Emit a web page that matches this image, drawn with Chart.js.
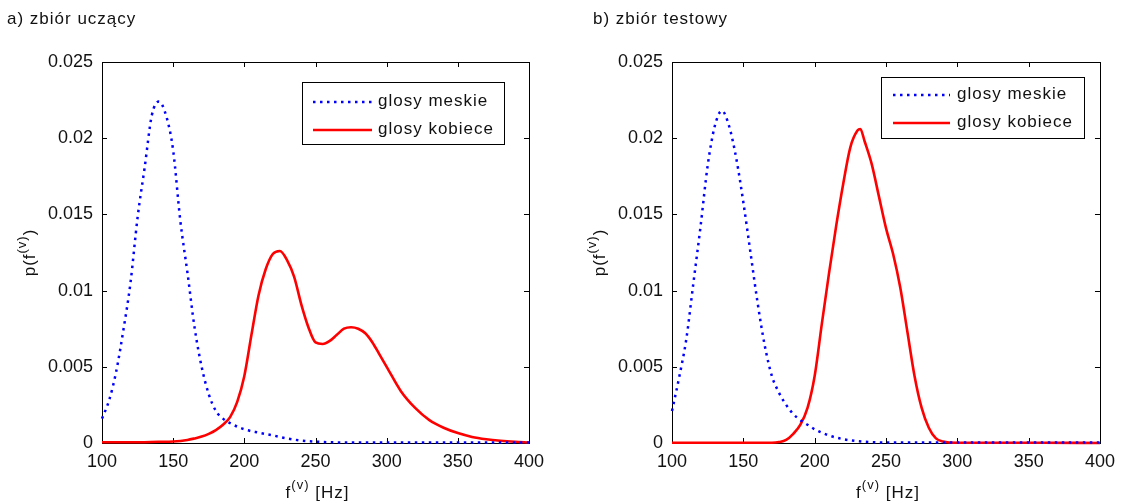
<!DOCTYPE html>
<html><head><meta charset="utf-8">
<script src="https://cdn.jsdelivr.net/npm/chart.js@4.4.1/dist/chart.umd.min.js"></script>
<style>
html,body{margin:0;padding:0;background:#fff;}
#wrap{position:relative;width:1123px;height:504px;overflow:hidden;}
canvas{position:absolute;top:0;}
</style></head><body>
<div id="wrap">
<canvas id="cA" width="560" height="504" style="left:0"></canvas>
<canvas id="cB" width="563" height="504" style="left:560px"></canvas>
</div>
<script>
// ---- data ----
const xTicks = [100, 150, 200, 250, 300, 350, 400];
const yTicks = [0, 0.005, 0.01, 0.015, 0.02, 0.025];
const seriesNames = ['glosy meskie', 'glosy kobiece'];
const panelTitles = ['a) zbiór uczący', 'b) zbiór testowy'];

// a) training set — male voices
const trainMaleHz = [100,105,110,115,120,125,130,135,140,145,150,155,160,165,170,175,180,185,190,200,210,220,230,240,250,260,280,300,350,400];
const trainMaleP  = [0.0016,0.0028,0.0047,0.0074,0.0105,0.0148,0.0181,0.0215,0.0224,0.0215,0.0192,0.0146,0.0112,0.0076,0.0050,0.0032,0.0021,0.0016,0.0013,0.0009,0.00068,0.0005,0.0003,0.00016,0.00009,0.00005,0.00003,0.00003,0.00003,0.00003];
// a) training set — female voices
const trainFemaleHz = [100,120,140,150,160,165,170,175,180,185,190,195,200,205,210,215,220,225,230,235,240,245,250,255,260,265,270,275,280,285,290,295,300,310,320,330,340,350,360,370,380,390,400];
const trainFemaleP  = [0.00005,0.00005,0.00008,0.0001,0.0002,0.0003,0.00042,0.0006,0.00085,0.0012,0.0017,0.0027,0.0044,0.0071,0.0097,0.0114,0.0124,0.0126,0.0120,0.0109,0.0091,0.0076,0.0066,0.0065,0.0067,0.0071,0.0075,0.0076,0.0075,0.0072,0.0066,0.0058,0.0050,0.0034,0.0023,0.0015,0.0010,0.00065,0.0004,0.00025,0.00015,0.00008,0.00003];
// b) test set — male voices
const testMaleHz = [100,105,110,115,120,125,130,135,140,145,150,155,160,165,170,175,180,185,190,195,200,210,220,230,240,250,300,350,400];
const testMaleP  = [0.0021,0.0043,0.0068,0.0105,0.0142,0.0182,0.0208,0.0218,0.0208,0.0187,0.0158,0.0125,0.0092,0.0064,0.0044,0.0033,0.0025,0.0019,0.0015,0.0012,0.0009,0.0005,0.00025,0.00012,0.00006,0.00003,0.00003,0.00003,0.00003];
// b) test set — female voices
const testFemaleHz = [100,150,170,175,180,185,190,195,200,205,210,215,220,225,230,232,235,240,245,250,255,260,265,270,275,280,285,290,300,350,360,400];
const testFemaleP  = [0.00002,0.00002,0.00002,0.00006,0.0002,0.0006,0.0012,0.0023,0.0044,0.0078,0.0111,0.0142,0.0170,0.0194,0.0205,0.0206,0.0198,0.0183,0.0162,0.0141,0.0124,0.0102,0.0073,0.0044,0.0023,0.0010,0.0003,0.0001,0.00002,0.00002,0.00002,0];

// ---- rendering ----
const FONT = '"Liberation Sans", Arial, Helvetica, sans-serif';
const TXT = '#111';
Chart.defaults.color = TXT;

function pts(xs, ys) { return xs.map((x, i) => ({x: x, y: ys[i]})); }

function drawParts(ctx, parts, x, y) {
  let cx = x;
  parts.forEach(p => {
    ctx.font = (p.sup ? '13px ' : '17px ') + FONT;
    const dy = p.sup ? -8 : 0;
    ctx.fillText(p.t, cx, y + dy);
    cx += ctx.measureText(p.t).width;
  });
}
function partsWidth(ctx, parts) {
  let w = 0;
  parts.forEach(p => { ctx.font = (p.sup ? '13px ' : '17px ') + FONT; w += ctx.measureText(p.t).width; });
  return w;
}

const matlabPlugin = {
  id: 'matlab',
  beforeDatasetsDraw(chart) {
    const {ctx, chartArea: a} = chart;
    ctx.save();
    ctx.strokeStyle = '#000';
    ctx.lineWidth = 1;
    ctx.strokeRect(Math.round(a.left) + 0.5, Math.round(a.top) + 0.5, Math.round(a.right - a.left), Math.round(a.bottom - a.top));
    const xs = chart.scales.x, ys = chart.scales.y;
    const L = 5;
    ctx.beginPath();
    xs.ticks.forEach(t => {
      const p = Math.round(xs.getPixelForValue(t.value)) + 0.5;
      ctx.moveTo(p, a.bottom); ctx.lineTo(p, a.bottom - L);
      ctx.moveTo(p, a.top); ctx.lineTo(p, a.top + L);
    });
    ys.ticks.forEach(t => {
      const p = Math.round(ys.getPixelForValue(t.value)) + 0.5;
      ctx.moveTo(a.left, p); ctx.lineTo(a.left + L, p);
      ctx.moveTo(a.right, p); ctx.lineTo(a.right - L, p);
    });
    ctx.stroke();
    ctx.restore();
  },
  afterDraw(chart, args, o) {
    const {ctx, chartArea: a} = chart;
    ctx.save();
    ctx.fillStyle = TXT;
    ctx.textBaseline = 'middle';
    ctx.textAlign = 'left';
    try { ctx.letterSpacing = '1px'; } catch (e) {}
    ctx.font = '17px ' + FONT;
    ctx.fillText(o.title, o.titleX, 19);
    const xp = [{t: 'f'}, {t: '(v)', sup: true}, {t: ' [Hz]'}];
    const w = partsWidth(ctx, xp);
    drawParts(ctx, xp, (a.left + a.right) / 2 - w / 2 + 2, 493);
    const yp = [{t: 'p(f'}, {t: '(v)', sup: true}, {t: ')'}];
    const wy = partsWidth(ctx, yp);
    ctx.translate(o.yLabelX, (a.top + a.bottom) / 2);
    ctx.rotate(-Math.PI / 2);
    drawParts(ctx, yp, -wy / 2, 0);
    ctx.setTransform(1, 0, 0, 1, 0, 0);
    const lg = o.legend;
    ctx.fillStyle = '#fff';
    ctx.fillRect(lg.x0, lg.y0, lg.x1 - lg.x0, lg.y1 - lg.y0);
    ctx.strokeStyle = '#000';
    ctx.lineWidth = 1;
    ctx.strokeRect(lg.x0 + 0.5, lg.y0 + 0.5, lg.x1 - lg.x0, lg.y1 - lg.y0);
    chart.data.datasets.forEach((ds, i) => {
      const yy = lg.rows[i];
      ctx.save();
      ctx.strokeStyle = ds.borderColor;
      ctx.lineWidth = ds.borderWidth;
      ctx.lineCap = 'butt';
      ctx.setLineDash(ds.borderDash || []);
      ctx.beginPath();
      ctx.moveTo(lg.lx0, yy); ctx.lineTo(lg.lx1, yy);
      ctx.stroke();
      ctx.restore();
      ctx.fillStyle = TXT;
      ctx.font = '17px ' + FONT;
      ctx.fillText(ds.label, lg.tx, yy - 1);
    });
    ctx.restore();
  }
};

function makeChart(id, maleHz, maleP, femaleHz, femaleP, layout) {
  return new Chart(document.getElementById(id), {
    type: 'line',
    data: {
      datasets: [
        {label: seriesNames[0], data: pts(maleHz, maleP), borderColor: '#0000ff', borderWidth: 2.5,
         borderDash: [2.5, 4.5], borderCapStyle: 'butt', pointRadius: 0, cubicInterpolationMode: 'monotone', clip: 6, fill: false},
        {label: seriesNames[1], data: pts(femaleHz, femaleP), borderColor: '#ff0000', borderWidth: 2.6,
         pointRadius: 0, cubicInterpolationMode: 'monotone', clip: 6, fill: false}
      ]
    },
    options: {
      responsive: false,
      animation: false,
      devicePixelRatio: 1,
      layout: {padding: {left: 0, top: 62, right: layout.padRight, bottom: 0}},
      plugins: {
        legend: {display: false},
        tooltip: {enabled: false},
        matlab: layout.plugin
      },
      scales: {
        x: {
          type: 'linear', min: xTicks[0], max: xTicks[xTicks.length - 1],
          afterBuildTicks: s => { s.ticks = xTicks.map(v => ({value: v})); },
          afterFit: s => { s.height = 61; },
          grid: {display: false, drawTicks: false}, border: {display: false},
          ticks: {font: {family: FONT, size: 18}, color: TXT, padding: 8, maxRotation: 0, autoSkip: false,
                  callback: v => String(v)}
        },
        y: {
          type: 'linear', min: yTicks[0], max: yTicks[yTicks.length - 1],
          afterBuildTicks: s => { s.ticks = yTicks.map(v => ({value: v})); },
          afterFit: s => { s.width = layout.yWidth; },
          grid: {display: false, drawTicks: false}, border: {display: false},
          ticks: {font: {family: FONT, size: 18}, color: TXT, padding: 9, autoSkip: false,
                  callback: v => String(+Number(v).toFixed(3))}
        }
      }
    },
    plugins: [matlabPlugin]
  });
}

makeChart('cA', trainMaleHz, trainMaleP, trainFemaleHz, trainFemaleP, {
  padRight: 31, yWidth: 102,
  plugin: {title: panelTitles[0], titleX: 7, yLabelX: 30,
           legend: {x0: 302, y0: 82, x1: 504, y1: 144, lx0: 313, lx1: 372, tx: 378, rows: [102, 130]}}
});
makeChart('cB', testMaleHz, testMaleP, testFemaleHz, testFemaleP, {
  padRight: 23, yWidth: 112,
  plugin: {title: panelTitles[1], titleX: 33, yLabelX: 40,
           legend: {x0: 321, y0: 77, x1: 524, y1: 138, lx0: 333, lx1: 390, tx: 397, rows: [95, 123]}}
});
</script>
</body></html>
